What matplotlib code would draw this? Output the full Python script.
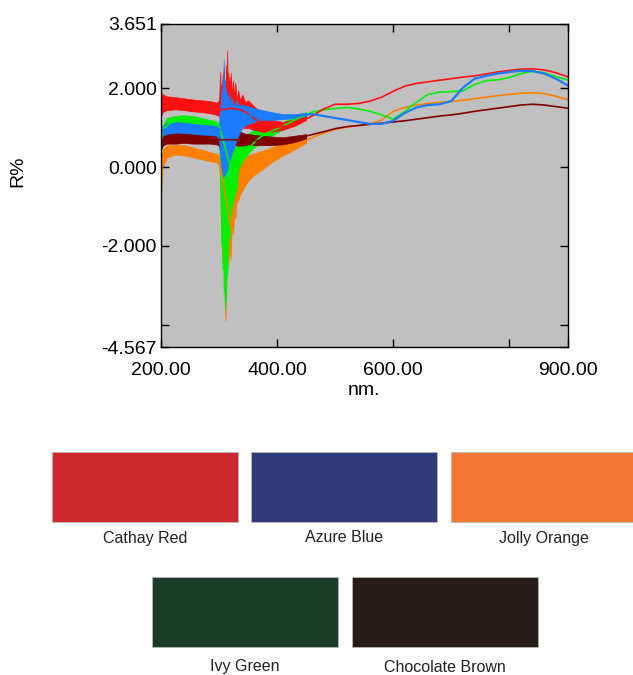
import matplotlib
matplotlib.use("Agg")
import matplotlib.pyplot as plt
from matplotlib import font_manager
from matplotlib.patches import Rectangle

plt.rcParams['font.family'] = ['Liberation Sans', 'DejaVu Sans']

# wavelength grid for the reflectance curves (nm)
wl = [200, 202, 206, 215, 230, 245, 260, 275, 290, 300, 320, 340, 350, 360, 370,
      380, 400, 420, 440, 460, 480, 500, 520, 540, 560, 580, 600, 620, 640, 660,
      680, 700, 720, 740, 760, 780, 800, 820, 840, 860, 880, 900]

red_r = [1.60, 1.62, 1.62, 1.62, 1.60, 1.58, 1.55, 1.52, 1.48, 1.45, 1.50, 1.45, 1.35, 1.25, 1.15,
         1.08, 1.02, 1.05, 1.15, 1.30, 1.48, 1.60, 1.60, 1.62, 1.68, 1.78, 1.93, 2.06, 2.13, 2.17,
         2.21, 2.25, 2.29, 2.32, 2.37, 2.42, 2.46, 2.49, 2.50, 2.47, 2.40, 2.30]
green_r = [0.60, 0.85, 1.00, 1.12, 1.18, 1.20, 1.15, 1.12, 1.08, 1.05, 0.00, 0.25, 0.45, 0.62, 0.75,
           0.85, 0.98, 1.12, 1.27, 1.40, 1.46, 1.49, 1.52, 1.48, 1.42, 1.33, 1.22, 1.42, 1.65, 1.85,
           1.91, 1.92, 1.94, 2.10, 2.20, 2.22, 2.28, 2.38, 2.44, 2.40, 2.30, 2.22]
blue_r = [0.85, 0.90, 0.95, 1.00, 1.02, 1.00, 0.98, 0.97, 0.95, 0.95, 1.00, 1.20, 1.30, 1.32, 1.33,
          1.32, 1.30, 1.28, 1.32, 1.35, 1.30, 1.25, 1.20, 1.15, 1.10, 1.10, 1.18, 1.38, 1.52, 1.58,
          1.60, 1.68, 2.02, 2.25, 2.32, 2.38, 2.42, 2.45, 2.44, 2.38, 2.25, 2.08]
orange_r = [-0.60, 0.10, 0.30, 0.42, 0.50, 0.45, 0.38, 0.32, 0.25, 0.20, -1.50, -0.30, -0.10, 0.05, 0.12,
            0.20, 0.35, 0.50, 0.62, 0.75, 0.87, 0.96, 1.02, 1.06, 1.10, 1.20, 1.42, 1.52, 1.58, 1.62,
            1.65, 1.67, 1.70, 1.74, 1.78, 1.82, 1.85, 1.88, 1.89, 1.87, 1.80, 1.72]
brown_r = [0.60, 0.70, 0.72, 0.72, 0.74, 0.73, 0.70, 0.72, 0.70, 0.70, 0.70, 0.70, 0.68, 0.68, 0.67,
           0.66, 0.65, 0.67, 0.75, 0.83, 0.90, 0.98, 1.03, 1.06, 1.09, 1.12, 1.15, 1.18, 1.22, 1.26,
           1.30, 1.33, 1.37, 1.42, 1.46, 1.50, 1.54, 1.58, 1.60, 1.58, 1.54, 1.50]

# lower / upper edge of the noisy short-wavelength part of each trace
noise_nm = [200, 203, 210, 225, 240, 255, 270, 285, 296,
            300, 302, 303, 304, 305, 306, 307, 308, 309, 310,
            311, 312, 313, 314, 315, 316, 317, 318, 319, 320,
            322, 324, 326, 328, 330, 333, 336, 340, 345, 350,
            360, 375, 390, 410, 430, 450]

red_lo = [1.30, 1.40, 1.45, 1.47, 1.45, 1.42, 1.40, 1.37, 1.33,
          1.30, 1.20, 1.35, 1.10, 1.30, 1.15, 1.35, 1.20, 1.40, 1.10,
          1.35, 1.20, 1.40, 1.25, 1.30, 1.15, 1.35, 1.20, 1.30, 1.15,
          1.20, 1.10, 1.15, 1.05, 1.10, 1.05, 1.05, 1.00, 1.00, 1.00,
          0.95, 0.90, 0.90, 0.95, 1.05, 1.20]
red_hi = [1.92, 1.85, 1.80, 1.78, 1.75, 1.72, 1.70, 1.68, 1.64,
          1.70, 2.42, 1.80, 2.10, 1.75, 2.35, 1.90, 2.55, 1.85, 2.20,
          1.90, 2.60, 2.00, 2.97, 1.95, 2.40, 1.85, 2.30, 1.80, 2.40,
          1.85, 2.20, 1.80, 2.15, 1.75, 1.95, 1.70, 1.85, 1.65, 1.70,
          1.55, 1.35, 1.20, 1.15, 1.22, 1.30]
blue_lo = [0.70, 0.80, 0.85, 0.88, 0.87, 0.85, 0.83, 0.82, 0.80,
           0.70, 0.30, 0.10, -0.10, -0.15, -0.20, -0.25, -0.20, -0.22, -0.20,
           -0.15, -0.15, -0.10, -0.05, 0.00, 0.05, 0.10, 0.15, 0.20, 0.25,
           0.35, 0.45, 0.50, 0.60, 0.70, 0.80, 0.90, 1.00, 1.05, 1.10,
           1.15, 1.20, 1.20, 1.22, 1.25, 1.30]
blue_hi = [1.00, 1.05, 1.12, 1.15, 1.13, 1.10, 1.08, 1.07, 1.05,
           1.10, 1.60, 1.40, 2.00, 1.50, 2.30, 1.70, 2.72, 1.60, 2.20,
           1.50, 2.00, 1.55, 1.90, 1.45, 1.80, 1.50, 1.90, 1.45, 1.70,
           1.75, 1.55, 1.65, 1.50, 1.70, 1.60, 1.55, 1.60, 1.55, 1.55,
           1.50, 1.45, 1.40, 1.35, 1.35, 1.38]
green_lo = [0.35, 0.70, 0.95, 1.02, 1.05, 1.02, 0.98, 0.95, 0.92,
            0.80, -0.50, -1.20, -2.00, -1.60, -2.60, -2.20, -3.20, -2.80, -3.62,
            -3.30, -3.40, -2.60, -2.80, -2.20, -2.00, -1.60, -1.80, -1.30, -1.20,
            -1.00, -0.85, -0.75, -0.65, -0.55, -0.10, 0.05, 0.15, 0.25, 0.35,
            0.50, 0.65, 0.80, 0.95, 1.10, 1.28]
green_hi = [0.85, 1.05, 1.25, 1.30, 1.32, 1.30, 1.25, 1.20, 1.16,
            1.10, 1.10, 1.00, 0.90, 0.80, 0.70, 0.60, 0.50, 0.50, 0.40,
            0.40, 0.35, 0.30, 0.30, 0.30, 0.30, 0.30, 0.35, 0.35, 0.40,
            0.40, 0.45, 0.50, 0.50, 0.50, 0.60, 0.70, 0.75, 0.80, 0.85,
            0.95, 1.00, 1.08, 1.15, 1.28, 1.40]
brown_lo = [0.45, 0.55, 0.60, 0.60, 0.62, 0.60, 0.60, 0.60, 0.58,
            0.55, 0.40, 0.30, 0.20, 0.10, 0.15, 0.05, 0.10, 0.00, 0.10,
            0.15, 0.20, 0.25, 0.30, 0.30, 0.35, 0.40, 0.45, 0.45, 0.50,
            0.50, 0.55, 0.55, 0.55, 0.55, 0.55, 0.55, 0.55, 0.56, 0.58,
            0.56, 0.56, 0.56, 0.58, 0.64, 0.72]
brown_hi = [0.82, 0.85, 0.85, 0.88, 0.90, 0.88, 0.86, 0.87, 0.85,
            0.85, 1.20, 0.90, 1.80, 1.10, 2.20, 1.20, 2.50, 1.30, 1.80,
            1.10, 2.00, 1.20, 1.60, 1.00, 1.50, 0.95, 1.30, 0.90, 1.40,
            1.20, 1.00, 1.10, 0.95, 1.00, 0.95, 0.90, 0.88, 0.85, 0.85,
            0.82, 0.80, 0.78, 0.76, 0.80, 0.84]
orange_lo = [-0.66, 0.00, 0.25, 0.32, 0.30, 0.25, 0.20, 0.15, 0.12,
             0.05, -0.40, -1.50, -0.80, -2.40, -1.20, -2.20, -1.60, -3.00, -3.60,
             -3.90, -3.20, -2.40, -2.70, -2.00, -2.50, -1.80, -2.30, -1.60, -2.35,
             -1.50, -1.70, -1.20, -1.30, -0.90, -0.85, -0.70, -0.60, -0.45, -0.35,
             -0.20, -0.05, 0.12, 0.30, 0.45, 0.62]
orange_hi = [0.10, 0.45, 0.55, 0.58, 0.56, 0.50, 0.45, 0.38, 0.34,
             0.30, 0.30, 0.25, 0.20, 0.15, 0.10, 0.05, 0.00, 0.00, -0.05,
             -0.05, 0.00, 0.00, 0.00, 0.05, 0.05, 0.05, 0.10, 0.10, 0.10,
             0.10, 0.15, 0.15, 0.20, 0.20, 0.20, 0.22, 0.25, 0.28, 0.30,
             0.35, 0.42, 0.50, 0.60, 0.70, 0.78]

# paint swatches shown under the plot
swatch_names = ['Cathay Red', 'Azure Blue', 'Jolly Orange', 'Ivy Green', 'Chocolate Brown']
swatch_colors = ['#cc282e', '#2f3a78', '#f47734', '#1a3c29', '#281b1b']

x_ticks = [200, 400, 600, 800, 900]
x_ticklabels = ['200.00', '400.00', '600.00', '', '900.00']
y_ticks = [-4.567, -4, -2, 0, 2, 3.651]
y_ticklabels = ['-4.567', '', '-2.000', '0.000', '2.000', '3.651']

W, H = 633, 675
fig = plt.figure(figsize=(W / 100, H / 100), dpi=100)

# spectrum panel
ax = fig.add_axes([161 / W, 1 - 347 / H, 406.5 / W, 323.5 / H])
ax.set_facecolor('#c0c0c0')

traces = [
    (orange_r, orange_lo, orange_hi, '#ff8000', 1.2),
    (green_r, green_lo, green_hi, '#00f000', 1.2),
    (brown_r, brown_lo, brown_hi, '#800000', 1.2),
    (red_r, red_lo, red_hi, '#ff1010', 1.2),
    (blue_r, blue_lo, blue_hi, '#1c7cff', 1.6),
]
for vals, lo, hi, col, lw in traces:
    ax.fill_between(noise_nm, lo, hi, color=col, lw=0.5)
    ax.plot(wl, vals, color=col, lw=lw)

ax.set_xlim(200, 900)
ax.set_ylim(-4.567, 3.651)
ax.set_xticks(x_ticks)
ax.set_xticklabels(x_ticklabels)
ax.set_yticks(y_ticks)
ax.set_yticklabels(y_ticklabels)
ax.tick_params(direction='in', length=6, width=1, top=True, right=True,
               labelsize=14, colors='black')
ax.tick_params(axis='x', pad=11)
ax.tick_params(axis='y', pad=3)
for s in ax.spines.values():
    s.set_linewidth(1)
ax.set_xlabel('nm.', fontsize=14, labelpad=2)
fig.text(18 / W, 1 - 171 / H, 'R%', rotation=90, fontsize=14,
         ha='center', va='center')

# swatch panel in pixel coordinates
sw = fig.add_axes([0, 0, 1, 1], zorder=-1)
sw.set_xlim(0, W)
sw.set_ylim(H, 0)
sw.axis('off')

try:
    font_manager.findfont('Liberation Sans Narrow', fallback_to_default=False)
    label_font = dict(family=['Liberation Sans Narrow', 'DejaVu Sans'], fontsize=14)
except ValueError:
    label_font = dict(family=['Liberation Sans', 'DejaVu Sans'], fontsize=11.5)

swatch_pos = [(52, 452), (251, 452), (451, 452), (152, 577), (352, 577)]
for i, (name, col, (x0, y0)) in enumerate(zip(swatch_names, swatch_colors, swatch_pos)):
    sw.add_patch(Rectangle((x0, y0), 186, 70, facecolor=col,
                           edgecolor='#b8b8b8', lw=0.6))
    dy = 86 if i < 3 else 90
    sw.text(x0 + 93, y0 + dy, name, ha='center', va='center',
            color='#222222', **label_font)

fig.savefig('out.png', dpi=100)
